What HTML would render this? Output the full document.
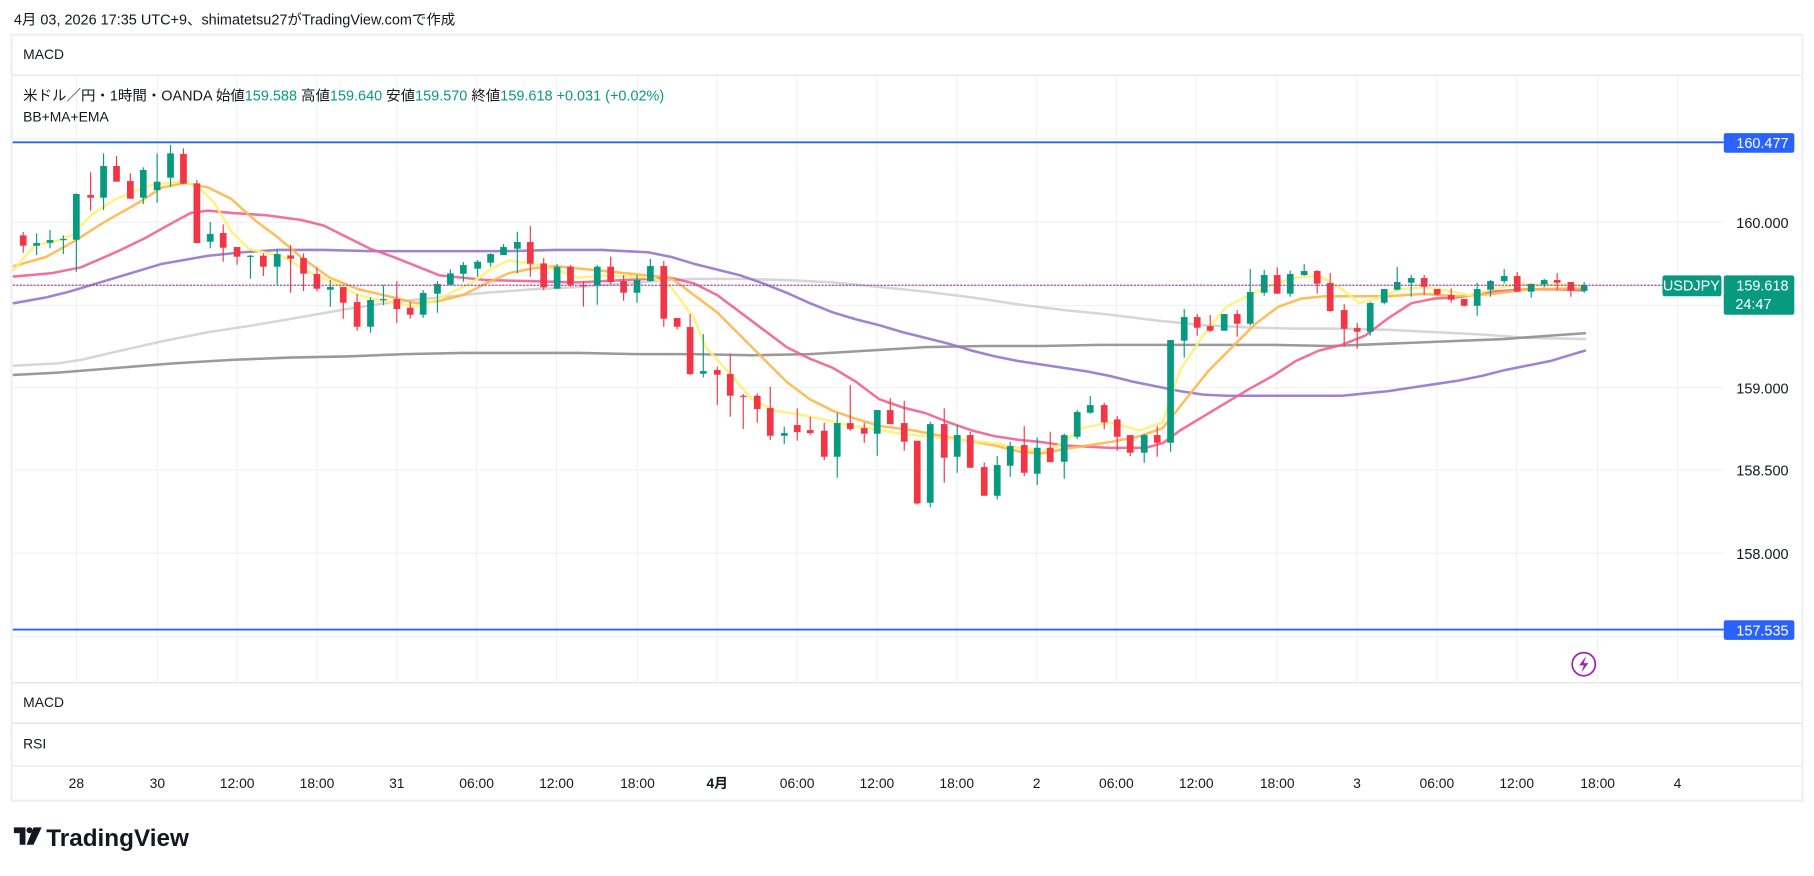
<!DOCTYPE html>
<html><head><meta charset="utf-8">
<style>
html,body{margin:0;padding:0;background:#fff;width:1814px;height:876px;overflow:hidden}
svg{display:block}
text{font-family:"Liberation Sans","Noto Sans CJK JP",sans-serif}
</style></head>
<body>
<svg id="s" width="1814" height="876" viewBox="0 0 1568 757" preserveAspectRatio="none" xmlns="http://www.w3.org/2000/svg">
<rect x="0" y="0" width="1568" height="757" fill="#fff"/>
<text x="12" y="21" font-size="12.5" fill="#131722">4月 03, 2026 17:35 UTC+9、shimatetsu27がTradingView.comで作成</text>
<rect x="10" y="30" width="1548" height="662" fill="#fff" stroke="#eef0f4" stroke-width="2"/>
<g id="grid" stroke="#f0f1f4" stroke-width="1"></g>
<line x1="11" y1="65" x2="1557" y2="65" stroke="#e0e3eb"/>
<line x1="11" y1="590" x2="1557" y2="590" stroke="#e0e3eb"/>
<line x1="11" y1="625" x2="1557" y2="625" stroke="#e0e3eb"/>
<line x1="11" y1="662" x2="1557" y2="662" stroke="#e0e3eb"/>
<text x="20" y="51" font-size="12" fill="#131722">MACD</text>
<text x="20" y="87" font-size="12.5" fill="#131722">米ドル／円・1時間・OANDA  始値<tspan fill="#089981">159.588</tspan>  高値<tspan fill="#089981">159.640</tspan>  安値<tspan fill="#089981">159.570</tspan>  終値<tspan fill="#089981">159.618  +0.031 (+0.02%)</tspan></text>
<text x="20" y="105" font-size="12" fill="#131722">BB+MA+EMA</text>
<text x="20" y="611" font-size="12" fill="#131722">MACD</text>
<text x="20" y="647" font-size="12" fill="#131722">RSI</text>
<g id="lines" fill="none" stroke-width="2.2" stroke-linejoin="round" stroke-linecap="round"></g>
<g id="candles"></g>
<line x1="11" y1="123" x2="1490" y2="123" stroke="#2962ff" stroke-width="1.6"/>
<line x1="11" y1="544" x2="1490" y2="544" stroke="#2962ff" stroke-width="1.6"/>
<line x1="11" y1="246.5" x2="1437" y2="246.5" stroke="#2962ff" stroke-width="1" stroke-dasharray="1,2"/>
<line x1="12" y1="246.5" x2="1437" y2="246.5" stroke="#f23645" stroke-width="1" stroke-dasharray="1,2"/>
<rect x="1490" y="115" width="61" height="17" rx="2" fill="#2962ff"/>
<text x="1546" y="128" font-size="12.5" fill="#fff" text-anchor="end">160.477</text>
<rect x="1490" y="536" width="61" height="17" rx="2" fill="#2962ff"/>
<text x="1546" y="549" font-size="12.5" fill="#fff" text-anchor="end">157.535</text>
<rect x="1437" y="238" width="51" height="18" rx="2" fill="#089981"/>
<text x="1462" y="251" font-size="12.5" fill="#fff" text-anchor="middle">USDJPY</text>
<rect x="1490" y="238" width="61" height="34" rx="2" fill="#089981"/>
<text x="1546" y="251" font-size="12.5" fill="#fff" text-anchor="end">159.618</text>
<text x="1500" y="267" font-size="12.5" fill="#fff">24:47</text>
<g font-size="12.5" fill="#131722" text-anchor="end">
<text x="1546" y="197">160.000</text>
<text x="1546" y="340">159.000</text>
<text x="1546" y="411">158.500</text>
<text x="1546" y="483">158.000</text>
</g>
<circle cx="1369" cy="574" r="10" fill="none" stroke="#9c27b0" stroke-width="1.5"/>
<path d="M1371 567 L1365 575 L1369 575 L1367 581 L1373 573 L1369 573 Z" fill="#9c27b0"/>
<g id="tl" font-size="12" fill="#131722" text-anchor="middle"></g>
<g transform="translate(12,713)">
<path d="M0 2 H10 V17 H5 V7 H0 Z" fill="#131722"/>
<circle cx="13.5" cy="4.5" r="2.6" fill="#131722"/>
<path d="M17 2 H24 L17 17 H11 Z" fill="#131722"/>
</g>
<text x="40" y="731" font-size="21" font-weight="bold" fill="#131722">TradingView</text>
</svg>
<script>
var NS="http://www.w3.org/2000/svg";
function el(p,t,a){var e=document.createElementNS(NS,t);for(var k in a)e.setAttribute(k,a[k]);p.appendChild(e);return e;}
var grid=document.getElementById('grid');
var gx=[66,136,205,274,343,412,481,551,620,689,758,827,896,965,1034,1104,1173,1242,1311,1381,1450];
var lbl=["28","30","12:00","18:00","31","06:00","12:00","18:00","4月","06:00","12:00","18:00","2","06:00","12:00","18:00","3","06:00","12:00","18:00","4"];
gx.forEach(function(x){el(grid,'line',{x1:x,y1:66,x2:x,y2:589});});
[120,192,264,335,406,478,550].forEach(function(y){el(grid,'line',{x1:11,y1:y,x2:1490,y2:y});});
var tl=document.getElementById('tl');
gx.forEach(function(x,i){var t=el(tl,'text',{x:x,y:681});t.textContent=lbl[i];if(lbl[i]=="4月")t.setAttribute('font-weight','bold');});
var c3=[[52,316,347,306,368,0],[82,339,347,310,375,1],[112,330,338,300,355,1],[142,327,329,316,372,1],[171,192,329,190,425,1],[203,195,203,127,242,0],[232,108,203,70,240,1],[261,108,155,78,155,0],[292,153,206,130,206,0],[321,120,203,112,222,1],[352,155,180,70,218,1],[382,70,143,45,170,1],[411,72,161,55,162,0],[441,160,339,150,339,0],[471,312,335,276,355,1],[500,309,353,283,395,0],[531,351,380,351,404,0],[561,377,380,375,446,1],[590,377,410,370,438,0],[621,372,410,357,464,1],[651,376,386,345,488,0],[680,384,431,370,483,0],[710,432,476,412,484,0],[740,471,479,450,530,1],[769,471,518,471,566,0],[800,516,590,492,602,0],[830,510,590,502,608,1],[859,507,510,465,525,1],[889,507,537,453,579,0],[919,533,554,516,566,0],[948,489,554,480,563,1],[980,462,491,453,548,1],[1009,430,464,418,465,1],[1038,405,431,396,455,1],[1070,395,416,390,440,1],[1099,372,398,370,410,1],[1128,351,375,342,375,1],[1159,336,356,305,430,1],[1188,336,401,288,440,0],[1218,400,472,384,480,0],[1248,410,476,402,476,1],[1278,410,464,405,470,0],[1307,465,469,455,530,0],[1338,410,466,405,524,1],[1368,410,456,380,462,0],[1397,453,488,435,512,0],[1427,450,488,435,518,1],[1457,408,453,387,455,1],[1487,408,566,393,590,0],[1517,564,590,564,598,0],[1546,591,732,552,735,0]];
var c4=[[70,453,461,342,472,1],[112,450,464,440,555,0],[151,462,527,400,590,0],[190,527,530,522,627,0],[232,527,567,520,608,0],[271,564,647,500,660,0],[313,639,647,620,672,1],[352,615,636,565,662,0],[391,630,639,590,644,0],[433,632,710,608,720,0],[472,609,710,578,773,1],[511,609,627,495,632,0],[553,624,641,608,668,0],[592,570,641,570,707,1],[631,570,612,534,612,0],[673,609,665,542,692,0],[712,662,850,662,853,0],[751,612,848,605,862,1],[793,612,713,565,788,0],[832,645,710,615,758,1],[871,645,743,635,743,0],[913,741,827,727,827,0],[952,735,827,708,838,1],[991,678,737,665,770,1],[1033,675,758,618,768,0],[1072,683,761,652,795,1],[1111,683,726,635,727,0],[1153,645,725,640,776,1],[1192,576,650,570,657,1],[1231,555,578,528,581,1],[1273,555,607,548,627,0],[1312,598,650,588,692,0],[1351,645,698,645,708,0],[1393,645,698,642,728,1],[1432,645,668,618,710,0],[1472,360,668,360,695,1]];
var c5=[[103,201,272,177,323,1],[142,201,233,192,257,0],[181,228,242,195,246,0],[223,192,242,192,242,1],[262,192,221,180,260,0],[301,126,221,57,227,1],[343,75,128,60,137,1],[382,75,131,52,131,0],[421,72,131,62,140,1],[463,63,75,42,77,1],[502,63,101,60,131,0],[541,99,183,69,185,0],[583,180,236,162,290,0],[622,234,245,219,296,0],[661,159,245,155,257,1],[703,117,158,117,163,1],[742,96,119,51,121,1],[784,84,98,75,140,1],[823,84,110,75,134,0],[862,117,134,117,137,0],[904,135,149,115,158,0],[943,147,167,147,170,0],[982,117,167,98,197,1],[1022,93,119,90,140,1],[1063,78,93,57,100,1],[1102,78,125,66,125,0],[1144,102,125,100,143,1],[1183,90,103,86,112,1],[1222,90,98,69,119,0],[1263,96,122,96,140,0],[1303,105,122,96,128,1]];
var cg=document.getElementById('candles');
function draw(arr,ox,oy,kx){arr.forEach(function(c){
 var X=(c[0]*kx+ox)/1.157, T=(c[1]/3+oy)/1.157, B=(c[2]/3+oy)/1.157, H=(c[3]/3+oy)/1.157, L=(c[4]/3+oy)/1.157;
 var col=c[5]?'#089981':'#f23645';
 el(cg,'line',{x1:X,y1:H,x2:X,y2:L,stroke:col,'stroke-width':1});
 el(cg,'rect',{x:X-2.9,y:T,width:5.8,height:Math.max(1,B-T),fill:col});
});}
draw(c3,0,130,700/1568);draw(c4,680,220,1/3);draw(c5,1150,250,1/3);
var L={
'#d1d1d1':[[12,316],[50,314],[70,311],[100,304],[140,295],[180,287],[220,281],[260,274],[300,267],[340,261],[380,257],[420,253],[460,250],[500,248],[540,245],[580,242],[600,241],[640,241],[680,242],[720,244],[760,248],[800,252],[840,257],[880,263],[920,268],[960,272],[1000,277],[1040,281],[1080,283],[1120,284],[1160,284],[1200,285],[1240,287],[1280,289],[1320,292],[1370,293]],
'#8f8f8f':[[12,324],[50,322],[100,318],[150,314],[200,311],[250,309],[300,308],[350,306],[400,305],[450,305],[500,305],[550,306],[600,306],[650,307],[700,306],[750,303],[800,300],[850,299],[900,299],[950,298],[1000,298],[1050,298],[1100,298],[1150,299],[1200,297],[1250,295],[1300,293],[1340,290],[1370,288]],
'#9575cd':[[12,262],[40,257],[60,252],[80,246],[110,237],[140,228],[180,221],[210,218],[240,216],[280,216],[320,217],[360,217],[400,217],[440,217],[480,216],[520,216],[560,218],[580,222],[600,228],[620,233],[640,238],[660,245],[680,253],[700,262],[720,270],[740,276],[760,281],[780,287],[800,292],[820,297],[840,303],[860,308],[880,312],[900,315],[920,318],[940,321],[960,325],[980,330],[1000,334],[1020,338],[1040,341],[1060,342],[1100,342],[1160,342],[1180,340],[1200,338],[1220,335],[1240,332],[1260,329],[1280,325],[1300,320],[1320,316],[1340,312],[1370,303]],
'#f06292':[[12,239],[45,236],[70,231],[100,218],[125,206],[150,192],[165,184],[180,182],[200,184],[230,186],[260,190],[280,195],[300,205],[320,215],[340,222],[360,230],[380,238],[400,240],[420,242],[460,243],[500,244],[540,242],[580,240],[600,245],[620,255],[640,270],[660,285],[680,300],[700,310],[720,318],[740,330],[760,345],[780,352],[800,357],[820,365],[840,372],[860,377],[880,380],[900,382],[920,385],[960,387],[990,387],[1005,383],[1020,372],[1040,360],[1060,348],[1080,336],[1100,325],[1120,312],[1140,303],[1160,298],[1180,290],[1200,275],[1220,262],[1240,258],[1260,257],[1290,252],[1320,250],[1350,250],[1370,251]],
'#ffb74d':[[12,230],[40,222],[65,208],[90,192],[120,175],[140,162],[160,158],[180,162],[200,172],[220,190],[240,205],[260,222],[285,240],[310,250],[340,257],[360,262],[380,260],[400,255],[420,245],[440,236],[460,232],[480,230],[500,232],[530,235],[560,238],[580,240],[600,255],[620,270],[640,290],[660,310],[680,330],[700,345],[720,355],[740,362],[760,368],[790,372],[820,378],[860,385],[880,390],[900,392],[920,388],[960,382],[985,377],[1005,370],[1025,345],[1045,320],[1065,300],[1085,280],[1105,265],[1125,258],[1145,256],[1200,256],[1230,254],[1260,256],[1290,254],[1320,250],[1370,249]],
'#fff176':[[12,233],[30,212],[50,208],[62,203],[80,185],[100,172],[130,160],[155,157],[170,160],[185,175],[200,200],[215,215],[245,222],[265,234],[290,245],[310,255],[330,260],[360,265],[375,260],[390,253],[410,243],[425,232],[440,225],[460,228],[480,233],[500,240],[520,238],[565,240],[580,248],[600,275],[610,300],[630,322],[650,345],[670,355],[690,358],[710,362],[730,367],[750,370],[780,375],[830,380],[860,383],[880,387],[900,390],[915,385],[935,370],[960,365],[985,372],[1005,365],[1020,320],[1040,290],[1060,265],[1080,255],[1100,246],[1120,240],[1140,238],[1160,250],[1175,262],[1190,258],[1210,250],[1230,248],[1245,250],[1270,255],[1290,250],[1310,246],[1350,246],[1370,248]]
};
var lg=document.getElementById('lines');
for(var k in L){el(lg,'polyline',{points:L[k].map(function(p){return p.join(',');}).join(' '),stroke:k,'stroke-opacity':0.9});}
</script>
</body></html>
